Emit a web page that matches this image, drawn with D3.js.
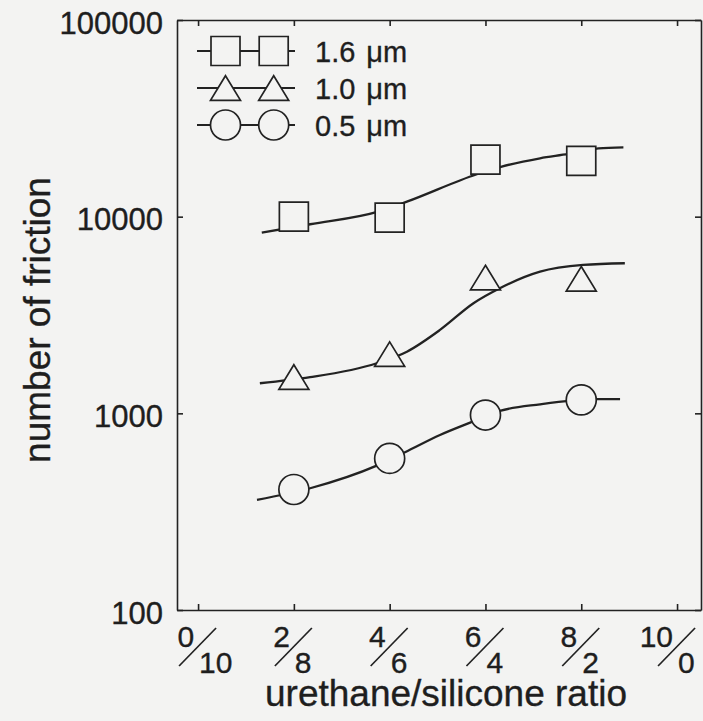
<!DOCTYPE html>
<html>
<head>
<meta charset="utf-8">
<script src="https://cdn.jsdelivr.net/npm/d3@7"></script>
<style>
  body { margin: 0; background: #f3f3f2; }
  text { font-family: "Liberation Sans", Arial, Helvetica, sans-serif; fill: #1e1e1e; stroke: #1e1e1e; stroke-width: 0.35px; }
  .axis path, .axis line { stroke: #222; stroke-width: 1.6; }
</style>
</head>
<body>
<div id="chart"></div>
<script>
// ratio ticks (urethane / silicone)
var urethane = [0, 2, 4, 6, 8, 10];
var silicone = [10, 8, 6, 4, 2, 0];
var yTicks = [100, 1000, 10000, 100000];

// measured points
var ratios = [2, 4, 6, 8];
var seriesNames = ["1.6 \u03bcm", "1.0 \u03bcm", "0.5 \u03bcm"];
var friction16 = [10000, 9900, 19500, 19200];
var friction10 = [1530, 2000, 4900, 4830];
var friction05 = [410, 590, 980, 1170];

// fitted curves
var fitX16 = [1.33, 2.34, 3.76, 4.36, 5.82, 6.34, 7.14, 7.73, 8.36, 8.88];
var fit16 = [8290, 9150, 10600, 11920, 16430, 17960, 19810, 20830, 22260, 22520];
var fitX10 = [1.29, 2.34, 3.73, 4.36, 5.05, 5.75, 6.30, 7.14, 8.04, 8.91];
var fit10 = [1422, 1526, 1798, 2059, 2655, 3629, 4324, 5250, 5680, 5795];
var fitX05 = [1.23, 2.34, 3.73, 4.32, 5.05, 5.68, 6.30, 7.14, 8.31, 8.81];
var fit05 = [363, 416, 542, 634, 776, 897, 1029, 1112, 1180, 1180];

var svgWidth = 703;
var svgHeight = 721;
var margin = { top: 20, right: 2, bottom: 111, left: 177 };
var width = svgWidth - margin.left - margin.right;
var height = svgHeight - margin.top - margin.bottom;
var bg = "#f3f3f2";
var ink = "#222";

var svg = d3.select("#chart")
    .append("svg")
    .attr("width", svgWidth)
    .attr("height", svgHeight);

var chartGroup = svg.append("g")
    .attr("transform", `translate(${margin.left}, ${margin.top})`);

var x = d3.scaleLinear().domain([-0.44, 10.5]).range([0, width]);
var y = d3.scaleLog().domain([100, 100000]).range([height, 0]);

// box with inward ticks on all four sides
chartGroup.append("g").attr("class", "axis")
    .attr("transform", `translate(0, ${height})`)
    .call(d3.axisBottom(x).tickValues(urethane).tickSizeInner(-6).tickSizeOuter(0).tickFormat(""));
chartGroup.append("g").attr("class", "axis")
    .call(d3.axisTop(x).tickValues(urethane).tickSizeInner(-6).tickSizeOuter(0).tickFormat(""));
chartGroup.append("g").attr("class", "axis")
    .attr("transform", `translate(${width}, 0)`)
    .call(d3.axisRight(y).tickValues(yTicks).tickSizeInner(-6).tickSizeOuter(0).tickFormat(""));
var leftAxis = chartGroup.append("g").attr("class", "axis")
    .call(d3.axisLeft(y).tickValues(yTicks).tickSizeInner(-6).tickSizeOuter(0)
        .tickPadding(14).tickFormat(d3.format("d")));
leftAxis.selectAll("text")
    .style("font-size", "31px")
    .style("font-family", "'Liberation Sans', Arial, sans-serif")
    .attr("fill", "#1e1e1e")
    .attr("dy", "0.42em");

// fraction style tick labels
var fracs = chartGroup.append("g").selectAll("g")
    .data(urethane)
    .enter()
    .append("g")
    .attr("transform", d => `translate(${x(d)}, ${height})`);

fracs.append("text")
    .attr("x", -4)
    .attr("y", 37)
    .attr("text-anchor", "end")
    .style("font-size", "30px")
    .text(d => d);

fracs.append("line")
    .attr("x1", -19).attr("y1", 56)
    .attr("x2", 18).attr("y2", 18)
    .attr("stroke", ink)
    .attr("stroke-width", 1.7);

fracs.append("text")
    .attr("x", 1)
    .attr("y", 63)
    .attr("text-anchor", "start")
    .style("font-size", "30px")
    .text((d, i) => silicone[i]);

// axis titles
svg.append("text")
    .attr("x", 446)
    .attr("y", 706)
    .attr("text-anchor", "middle")
    .style("font-size", "37px")
    .text("urethane/silicone ratio");

svg.append("text")
    .attr("transform", "translate(50, 320) rotate(-90)")
    .attr("text-anchor", "middle")
    .style("font-size", "37px")
    .text("number of friction");

// triangle centred on its bounding box
var triangleBox = {
    draw: function (context, size) {
        var w = Math.sqrt(size);
        var h = w * 0.82;
        context.moveTo(0, -h / 2);
        context.lineTo(w / 2, h / 2);
        context.lineTo(-w / 2, h / 2);
        context.closePath();
    }
};

var series = [
    { name: seriesNames[0], values: friction16, fitX: fitX16, fit: fit16, symbol: d3.symbolSquare, size: 29 * 29 },
    { name: seriesNames[1], values: friction10, fitX: fitX10, fit: fit10, symbol: triangleBox, size: 30 * 30 },
    { name: seriesNames[2], values: friction05, fitX: fitX05, fit: fit05, symbol: d3.symbolCircle, size: Math.PI * 15 * 15 }
];

var line = d3.line()
    .x(d => x(d[0]))
    .y(d => y(d[1]))
    .curve(d3.curveMonotoneX);

series.forEach(function (s) {
    chartGroup.append("path")
        .datum(s.fitX.map((v, i) => [v, s.fit[i]]))
        .attr("d", line)
        .attr("fill", "none")
        .attr("stroke", ink)
        .attr("stroke-width", 2.3);
});

series.forEach(function (s) {
    chartGroup.append("g").selectAll("path")
        .data(s.values)
        .enter()
        .append("path")
        .attr("transform", (d, i) => `translate(${x(ratios[i])}, ${y(d)})`)
        .attr("d", d3.symbol().type(s.symbol).size(s.size))
        .attr("fill", bg)
        .attr("stroke", ink)
        .attr("stroke-width", 1.7);
});

// legend
var legend = chartGroup.append("g").selectAll("g")
    .data(series)
    .enter()
    .append("g")
    .attr("transform", (d, i) => `translate(0, ${31 + i * 37})`);

legend.append("line")
    .attr("x1", 20).attr("x2", 118)
    .attr("stroke", ink)
    .attr("stroke-width", 1.9);

legend.selectAll("path")
    .data(d => [d, d])
    .enter()
    .append("path")
    .attr("transform", (d, i) => `translate(${48.5 + i * 48.2}, 0)`)
    .attr("d", d => d3.symbol().type(d.symbol).size(d.size)())
    .attr("fill", bg)
    .attr("stroke", ink)
    .attr("stroke-width", 1.7);

legend.append("text")
    .attr("x", 138)
    .attr("y", 11)
    .style("font-size", "29px")
    .style("word-spacing", "3px")
    .text(d => d.name);
</script>
</body>
</html>
